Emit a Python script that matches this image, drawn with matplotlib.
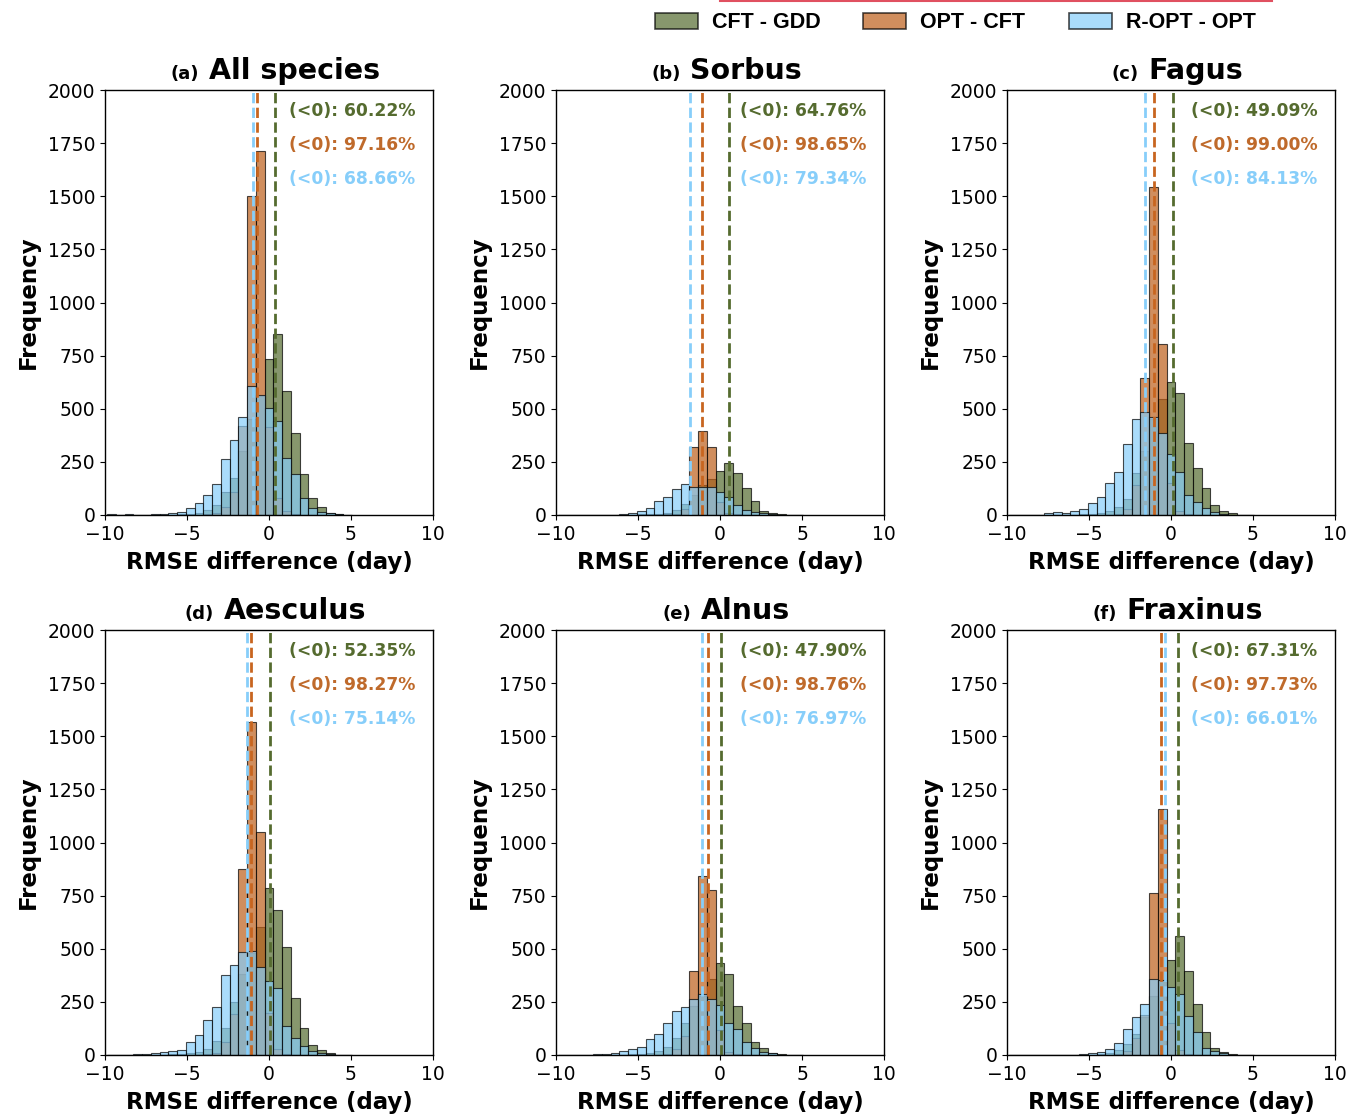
import numpy as np
import matplotlib
matplotlib.use('Agg')
import matplotlib.pyplot as plt
from matplotlib.offsetbox import TextArea, HPacker, AnchoredOffsetbox
from matplotlib.patches import Patch
from matplotlib.lines import Line2D

# bin edges shared by every panel (only the visible part, -9.87 .. 5.07)
all_edges = np.linspace(-20, 20, 76)
edges = all_edges[19:48]

letters = ['(a)', '(b)', '(c)', '(d)', '(e)', '(f)']
species = ['All species', 'Sorbus', 'Fagus', 'Aesculus', 'Alnus', 'Fraxinus']
series_names = ['CFT - GDD', 'OPT - CFT', 'R-OPT - OPT']

# counts per bin
a_green = [0, 0, 0, 0, 0, 0, 0, 2, 3, 5, 10, 25, 45, 110, 175, 300, 450, 560, 733, 850, 583, 387, 191, 82, 36, 11, 3, 0]
a_orange = [0, 0, 0, 0, 0, 0, 0, 0, 0, 0, 2, 4, 8, 40, 110, 420, 1503, 1713, 415, 80, 20, 5, 2, 0, 0, 0, 0, 0]
a_blue = [4, 2, 6, 2, 2, 3, 6, 10, 15, 35, 55, 95, 145, 265, 355, 460, 605, 565, 505, 442, 270, 191, 82, 35, 16, 8, 3, 0]

b_green = [0, 0, 0, 0, 0, 0, 0, 0, 2, 3, 4, 5, 10, 25, 50, 95, 140, 170, 207, 246, 196, 125, 67, 19, 8, 3, 0, 0]
b_orange = [0, 0, 0, 0, 0, 0, 0, 0, 0, 0, 0, 0, 3, 5, 30, 318, 395, 318, 60, 10, 3, 0, 0, 0, 0, 0, 0, 0]
b_blue = [0, 0, 0, 0, 0, 1, 2, 5, 11, 19, 35, 67, 83, 124, 144, 133, 133, 130, 110, 86, 47, 24, 14, 8, 3, 1, 0, 0]

c_green = [0, 0, 0, 0, 0, 0, 0, 0, 3, 5, 10, 20, 40, 74, 199, 300, 450, 544, 624, 576, 337, 220, 125, 47, 20, 8, 2, 0]
c_orange = [0, 0, 0, 0, 0, 0, 0, 0, 0, 0, 0, 0, 5, 30, 141, 646, 1545, 803, 150, 20, 5, 2, 0, 0, 0, 0, 0, 0]
c_blue = [2, 2, 2, 2, 8, 14, 11, 20, 27, 55, 86, 152, 204, 333, 453, 486, 463, 384, 287, 204, 94, 63, 31, 14, 6, 2, 0, 0]

d_green = [0, 0, 0, 0, 0, 0, 0, 3, 5, 8, 15, 30, 66, 126, 250, 380, 480, 604, 786, 682, 506, 270, 129, 47, 25, 8, 2, 0]
d_orange = [0, 0, 0, 0, 0, 0, 0, 0, 0, 0, 0, 5, 10, 60, 192, 876, 1567, 1049, 200, 30, 5, 2, 0, 0, 0, 0, 0, 0]
d_blue = [0, 1, 2, 3, 5, 9, 16, 17, 22, 61, 93, 165, 228, 376, 424, 483, 490, 412, 349, 313, 137, 79, 42, 19, 9, 3, 0, 0]

e_green = [0, 0, 0, 0, 0, 0, 0, 0, 3, 5, 10, 20, 40, 80, 149, 230, 280, 357, 435, 380, 231, 152, 63, 35, 11, 3, 0, 0]
e_orange = [0, 0, 0, 0, 0, 0, 0, 0, 0, 0, 0, 0, 5, 30, 90, 396, 844, 777, 120, 15, 3, 0, 0, 0, 0, 0, 0, 0]
e_blue = [0, 0, 0, 2, 3, 5, 9, 19, 27, 39, 77, 97, 149, 207, 228, 263, 289, 263, 236, 152, 121, 63, 31, 16, 8, 2, 0, 0]

f_green = [0, 0, 0, 0, 0, 0, 0, 0, 0, 0, 5, 10, 25, 50, 100, 180, 280, 350, 446, 560, 393, 239, 108, 35, 16, 5, 0, 0]
f_orange = [0, 0, 0, 0, 0, 0, 0, 0, 0, 0, 0, 0, 5, 20, 79, 189, 761, 1159, 150, 25, 5, 0, 0, 0, 0, 0, 0, 0]
f_blue = [0, 0, 0, 0, 0, 0, 0, 2, 3, 8, 16, 27, 58, 121, 181, 242, 360, 354, 322, 289, 184, 110, 31, 19, 8, 2, 0, 0]

green_counts = [a_green, b_green, c_green, d_green, e_green, f_green]
orange_counts = [a_orange, b_orange, c_orange, d_orange, e_orange, f_orange]
blue_counts = [a_blue, b_blue, c_blue, d_blue, e_blue, f_blue]

# dashed mean lines
green_mean = [0.35, 0.55, 0.10, 0.08, 0.08, 0.45]
orange_mean = [-0.73, -1.10, -1.06, -1.10, -0.73, -0.59]
blue_mean = [-0.96, -1.81, -1.61, -1.36, -1.10, -0.35]

# share of negative differences
green_pct = ['60.22', '64.76', '49.09', '52.35', '47.90', '67.31']
orange_pct = ['97.16', '98.65', '99.00', '98.27', '98.76', '97.73']
blue_pct = ['68.66', '79.34', '84.13', '75.14', '76.97', '66.01']

c_green, c_orange, c_blue = '#556B2F', '#BC5F1A', '#87CEFA'
line_orange = '#C8651F'
txt_green, txt_orange, txt_blue = '#556B2F', '#BF6A2B', '#87CEFA'

fig = plt.figure(figsize=(13.48, 11.16), dpi=100)
lefts = [105, 556, 1007]
tops = [90, 630]
W, H = 1348, 1116
centers = (edges[:-1] + edges[1:]) / 2

for i in range(6):
    r, c = divmod(i, 3)
    ax = fig.add_axes([lefts[c] / W, 1 - (tops[r] + 425) / H, 328 / W, 425 / H])
    for counts, col in [(green_counts[i], c_green), (orange_counts[i], c_orange), (blue_counts[i], c_blue)]:
        ax.hist(centers, bins=edges, weights=counts, color=col, alpha=0.7,
                edgecolor='black', linewidth=0.8)
    ax.axvline(green_mean[i], color=c_green, ls='--', lw=2)
    ax.axvline(orange_mean[i], color=line_orange, ls='--', lw=2)
    ax.axvline(blue_mean[i], color=c_blue, ls='--', lw=2)
    ax.text(0.56, 0.95, f'(<0): {green_pct[i]}%', transform=ax.transAxes, color=txt_green,
            fontsize=12.3, fontweight='bold', va='center')
    ax.text(0.56, 0.87, f'(<0): {orange_pct[i]}%', transform=ax.transAxes, color=txt_orange,
            fontsize=12.3, fontweight='bold', va='center')
    ax.text(0.56, 0.79, f'(<0): {blue_pct[i]}%', transform=ax.transAxes, color=txt_blue,
            fontsize=12.3, fontweight='bold', va='center')
    ax.set_xlim(-10, 10)
    ax.set_ylim(0, 2000)
    ax.set_xticks([-10, -5, 0, 5, 10])
    ax.set_yticks(np.arange(0, 2001, 250))
    ax.tick_params(labelsize=13.5)
    ax.set_xlabel('RMSE difference (day)', fontsize=16.5, fontweight='bold', labelpad=5)
    ax.set_ylabel('Frequency', fontsize=16.5, fontweight='bold', labelpad=6)
    for s in ax.spines.values():
        s.set_linewidth(1.0)
    title = HPacker(children=[TextArea(letters[i], textprops=dict(fontsize=13, fontweight='bold')),
                              TextArea(species[i], textprops=dict(fontsize=20.5, fontweight='bold'))],
                    sep=7, align='baseline', pad=0)
    box = AnchoredOffsetbox(loc='lower center', child=title, bbox_to_anchor=(0.52, 1.0),
                            bbox_transform=ax.transAxes, frameon=False, pad=0, borderpad=0.35)
    ax.add_artist(box)

handles = [Patch(facecolor=col, alpha=0.7, edgecolor='black', linewidth=1.2)
           for col in (c_green, c_orange, c_blue)]
fig.legend(handles, series_names, loc='center', bbox_to_anchor=(955 / W, 1 - 23 / H), ncol=3,
           frameon=False, handlelength=2.0, handleheight=0.8, handletextpad=0.65, columnspacing=2.0,
           prop=dict(family='Liberation Sans', weight='bold', size=15.5))
fig.add_artist(Line2D([720 / W, 1272 / W], [1 - 1 / H, 1 - 1 / H], color='#E05060', lw=1.5))

fig.savefig('out.png', dpi=100)
